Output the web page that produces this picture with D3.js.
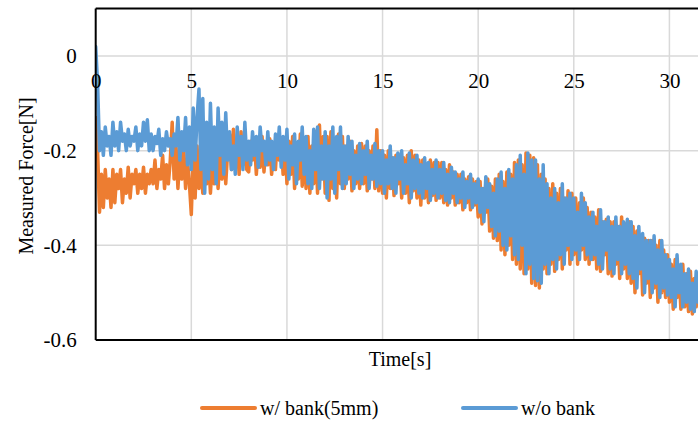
<!DOCTYPE html>
<html lang="en">
<head>
<meta charset="UTF-8">
<script src="https://cdnjs.cloudflare.com/ajax/libs/d3/7.8.5/d3.min.js"></script>
<title>Measured Force vs Time</title>
<style>
  body { margin: 0; background: #fff; }
  svg text { font-family: "Liberation Serif", "Times New Roman", serif; fill: #000; }
</style>
</head>
<body>
<svg id="chart" width="698" height="425"></svg>
<script>
// sample interval of the series [s]
var dt = 0.1;

var xTicks = [0, 5, 10, 15, 20, 25, 30];
var yTicks = [0, -0.2, -0.4, -0.6];
var yTickLabels = ["0", "-0.2", "-0.4", "-0.6"];

var seriesNames = ["w/ bank(5mm)", "w/o bank"];

// w/ bank(5mm), one value every 0.1 s (10 per line = 1 s)
var withBank = [
  -0.13, -0.20, -0.33, -0.25, -0.32, -0.24, -0.30, -0.26, -0.32, -0.24,
  -0.31, -0.25, -0.28, -0.24, -0.31, -0.26, -0.29, -0.235, -0.30, -0.25,
  -0.27, -0.24, -0.29, -0.25, -0.28, -0.235, -0.29, -0.25, -0.27, -0.24,
  -0.27, -0.22, -0.28, -0.24, -0.26, -0.21, -0.28, -0.23, -0.27, -0.22,
  -0.14, -0.26, -0.19, -0.28, -0.21, -0.26, -0.19, -0.28, -0.22, -0.27,
  -0.335, -0.21, -0.30, -0.19, -0.28, -0.22, -0.29, -0.20, -0.27, -0.21,
  -0.29, -0.22, -0.27, -0.19, -0.28, -0.21, -0.26, -0.19, -0.27, -0.20,
  -0.165, -0.24, -0.155, -0.22, -0.18, -0.25, -0.16, -0.23, -0.17, -0.24,
  -0.245, -0.18, -0.22, -0.175, -0.25, -0.19, -0.235, -0.17, -0.245, -0.19,
  -0.23, -0.175, -0.25, -0.19, -0.24, -0.17, -0.22, -0.18, -0.25, -0.175,
  -0.27, -0.18, -0.25, -0.17, -0.28, -0.19, -0.26, -0.165, -0.275, -0.18,
  -0.28, -0.17, -0.29, -0.19, -0.27, -0.16, -0.29, -0.146, -0.26, -0.17,
  -0.29, -0.17, -0.305, -0.16, -0.28, -0.18, -0.30, -0.165, -0.27, -0.17,
  -0.28, -0.19, -0.26, -0.18, -0.285, -0.20, -0.27, -0.19, -0.28, -0.185,
  -0.27, -0.19, -0.285, -0.20, -0.26, -0.19, -0.28, -0.156, -0.285, -0.20,
  -0.29, -0.21, -0.30, -0.20, -0.28, -0.215, -0.295, -0.21, -0.27, -0.21,
  -0.30, -0.215, -0.29, -0.21, -0.31, -0.20, -0.285, -0.21, -0.30, -0.22,
  -0.315, -0.22, -0.30, -0.23, -0.31, -0.22, -0.295, -0.225, -0.305, -0.225,
  -0.30, -0.225, -0.31, -0.24, -0.315, -0.23, -0.30, -0.245, -0.315, -0.25,
  -0.31, -0.25, -0.325, -0.26, -0.31, -0.255, -0.325, -0.26, -0.315, -0.265,
  -0.34, -0.265, -0.355, -0.28, -0.33, -0.26, -0.37, -0.275, -0.385, -0.26,
  -0.39, -0.25, -0.41, -0.265, -0.42, -0.245, -0.40, -0.25, -0.43, -0.225,
  -0.44, -0.22, -0.45, -0.23, -0.46, -0.205, -0.45, -0.21, -0.48, -0.215,
  -0.485, -0.23, -0.49, -0.25, -0.45, -0.26, -0.46, -0.28, -0.44, -0.27,
  -0.455, -0.29, -0.43, -0.28, -0.45, -0.30, -0.41, -0.285, -0.44, -0.29,
  -0.42, -0.30, -0.44, -0.31, -0.41, -0.30, -0.43, -0.32, -0.44, -0.33,
  -0.43, -0.34, -0.45, -0.325, -0.455, -0.35, -0.42, -0.345, -0.46, -0.35,
  -0.465, -0.35, -0.44, -0.36, -0.47, -0.34, -0.45, -0.355, -0.47, -0.35,
  -0.48, -0.36, -0.50, -0.37, -0.46, -0.38, -0.505, -0.385, -0.48, -0.39,
  -0.51, -0.39, -0.49, -0.40, -0.52, -0.39, -0.50, -0.41, -0.51, -0.42,
  -0.52, -0.44, -0.535, -0.43, -0.51, -0.45, -0.535, -0.44, -0.53, -0.46,
  -0.54, -0.455, -0.545, -0.47, -0.53, -0.46
];

// w/o bank
var withoutBank = [
   0.02, -0.06, -0.20, -0.16, -0.21, -0.15, -0.19, -0.17, -0.21, -0.14,
  -0.19, -0.16, -0.20, -0.14, -0.18, -0.165, -0.20, -0.155, -0.19, -0.17,
  -0.18, -0.15, -0.20, -0.165, -0.19, -0.14, -0.18, -0.135, -0.20, -0.165,
  -0.20, -0.17, -0.185, -0.155, -0.21, -0.175, -0.20, -0.16, -0.19, -0.175,
  -0.21, -0.165, -0.19, -0.13, -0.22, -0.16, -0.20, -0.13, -0.23, -0.15,
  -0.24, -0.11, -0.22, -0.13, -0.07, -0.24, -0.09, -0.29, -0.14, -0.26,
  -0.10, -0.24, -0.15, -0.27, -0.11, -0.21, -0.14, -0.25, -0.12, -0.22,
  -0.16, -0.24, -0.19, -0.25, -0.15, -0.21, -0.17, -0.24, -0.14, -0.22,
  -0.18, -0.23, -0.16, -0.21, -0.17, -0.235, -0.15, -0.20, -0.18, -0.23,
  -0.16, -0.22, -0.18, -0.24, -0.165, -0.21, -0.15, -0.235, -0.17, -0.22,
  -0.155, -0.26, -0.19, -0.23, -0.165, -0.27, -0.18, -0.22, -0.15, -0.25,
  -0.17, -0.27, -0.20, -0.28, -0.155, -0.24, -0.15, -0.28, -0.19, -0.26,
  -0.16, -0.30, -0.19, -0.26, -0.15, -0.29, -0.17, -0.24, -0.15, -0.28,
  -0.19, -0.27, -0.17, -0.25, -0.18, -0.28, -0.21, -0.26, -0.185, -0.27,
  -0.20, -0.25, -0.18, -0.28, -0.21, -0.26, -0.185, -0.275, -0.20, -0.27,
  -0.20, -0.29, -0.22, -0.27, -0.19, -0.28, -0.215, -0.29, -0.205, -0.26,
  -0.20, -0.29, -0.23, -0.27, -0.205, -0.30, -0.22, -0.28, -0.21, -0.29,
  -0.23, -0.30, -0.215, -0.28, -0.225, -0.305, -0.24, -0.29, -0.22, -0.30,
  -0.24, -0.29, -0.225, -0.305, -0.25, -0.31, -0.235, -0.29, -0.245, -0.31,
  -0.26, -0.30, -0.245, -0.32, -0.265, -0.30, -0.25, -0.32, -0.27, -0.31,
  -0.26, -0.33, -0.28, -0.35, -0.255, -0.32, -0.27, -0.36, -0.29, -0.38,
  -0.26, -0.37, -0.245, -0.40, -0.28, -0.41, -0.24, -0.38, -0.26, -0.42,
  -0.23, -0.43, -0.21, -0.40, -0.25, -0.46, -0.205, -0.44, -0.22, -0.47,
  -0.22, -0.475, -0.26, -0.48, -0.23, -0.44, -0.27, -0.46, -0.30, -0.43,
  -0.28, -0.45, -0.31, -0.42, -0.27, -0.44, -0.30, -0.40, -0.29, -0.43,
  -0.30, -0.41, -0.33, -0.43, -0.29, -0.40, -0.31, -0.42, -0.34, -0.43,
  -0.33, -0.42, -0.36, -0.44, -0.325, -0.45, -0.35, -0.41, -0.34, -0.45,
  -0.36, -0.46, -0.34, -0.43, -0.36, -0.46, -0.35, -0.44, -0.345, -0.46,
  -0.35, -0.47, -0.38, -0.49, -0.36, -0.45, -0.375, -0.50, -0.39, -0.47,
  -0.39, -0.50, -0.38, -0.48, -0.41, -0.51, -0.39, -0.49, -0.42, -0.505,
  -0.43, -0.51, -0.45, -0.53, -0.42, -0.50, -0.44, -0.53, -0.46, -0.52,
  -0.45, -0.535, -0.48, -0.54, -0.455, -0.52
];

var colors = ["#ED7D31", "#5B9BD5"];

var svg = d3.select("#chart");
var plotLeft = 95.7, plotRight = 700, plotTop = 8.6, plotBottom = 340;

var xScale = d3.scaleLinear().domain([0, 31.6]).range([plotLeft, plotRight]);
var yScale = d3.scaleLinear().domain([-0.6, 0.1]).range([plotBottom, plotTop]);

svg.append("clipPath").attr("id", "plotClip")
  .append("rect")
  .attr("x", plotLeft).attr("y", plotTop)
  .attr("width", plotRight - plotLeft).attr("height", plotBottom - plotTop);

// gridlines
var grid = svg.append("g").attr("class", "grid");
grid.selectAll("line.v")
  .data(xTicks.filter(d => d > 0))
  .enter().append("line")
  .attr("x1", d => xScale(d)).attr("x2", d => xScale(d))
  .attr("y1", plotTop).attr("y2", plotBottom)
  .attr("stroke", "#d9d9d9").attr("stroke-width", 1.5);
grid.selectAll("line.h")
  .data([0, -0.2, -0.4])
  .enter().append("line")
  .attr("x1", plotLeft).attr("x2", plotRight)
  .attr("y1", d => yScale(d)).attr("y2", d => yScale(d))
  .attr("stroke", "#d9d9d9").attr("stroke-width", 1.5);

// series
var line = d3.line()
  .x((d, i) => xScale(i * dt))
  .y(d => yScale(d));

var plot = svg.append("g").attr("clip-path", "url(#plotClip)");
[withBank, withoutBank].forEach(function (s, k) {
  plot.append("path")
    .datum(s)
    .attr("d", line)
    .attr("fill", "none")
    .attr("stroke", colors[k])
    .attr("stroke-width", 3.5)
    .attr("stroke-linejoin", "round")
    .attr("stroke-linecap", "round");
});

// frame of plot area
svg.append("line").attr("x1", plotLeft).attr("x2", plotRight).attr("y1", plotTop).attr("y2", plotTop)
  .attr("stroke", "#000").attr("stroke-width", 2);
svg.append("line").attr("x1", plotLeft).attr("x2", plotRight).attr("y1", plotBottom).attr("y2", plotBottom)
  .attr("stroke", "#000").attr("stroke-width", 2);
svg.append("line").attr("x1", plotLeft).attr("x2", plotLeft).attr("y1", plotTop).attr("y2", plotBottom)
  .attr("stroke", "#000").attr("stroke-width", 2);

// x axis labels sit along the zero line
var xAxis = d3.axisBottom(xScale).tickValues(xTicks).tickSize(0).tickPadding(17)
  .tickFormat(d3.format("d"));
var xG = svg.append("g").attr("transform", "translate(0," + yScale(0) + ")").call(xAxis);
xG.select(".domain").remove();
xG.selectAll("text").style("font-size", "21px").attr("fill", "#000");

var yAxis = d3.axisLeft(yScale).tickValues(yTicks).tickSize(0).tickPadding(19)
  .tickFormat((d, i) => yTickLabels[i]);
var yG = svg.append("g").attr("transform", "translate(" + plotLeft + ",0)").call(yAxis);
yG.select(".domain").remove();
yG.selectAll("text").style("font-size", "21px").attr("fill", "#000");

// axis titles
svg.append("text")
  .attr("transform", "translate(33,176) rotate(-90)")
  .attr("text-anchor", "middle")
  .style("font-size", "20px")
  .text("Measured Force[N]");

svg.append("text")
  .attr("x", 400).attr("y", 366)
  .attr("text-anchor", "middle")
  .style("font-size", "20px")
  .text("Time[s]");

// legend
var legendX = [202, 463];
var legend = svg.append("g");
seriesNames.forEach(function (name, k) {
  legend.append("line")
    .attr("x1", legendX[k]).attr("x2", legendX[k] + 53)
    .attr("y1", 408).attr("y2", 408)
    .attr("stroke", colors[k]).attr("stroke-width", 4)
    .attr("stroke-linecap", "round");
  legend.append("text")
    .attr("x", legendX[k] + 58).attr("y", 415)
    .style("font-size", "20px")
    .text(name);
});
</script>
</body>
</html>
